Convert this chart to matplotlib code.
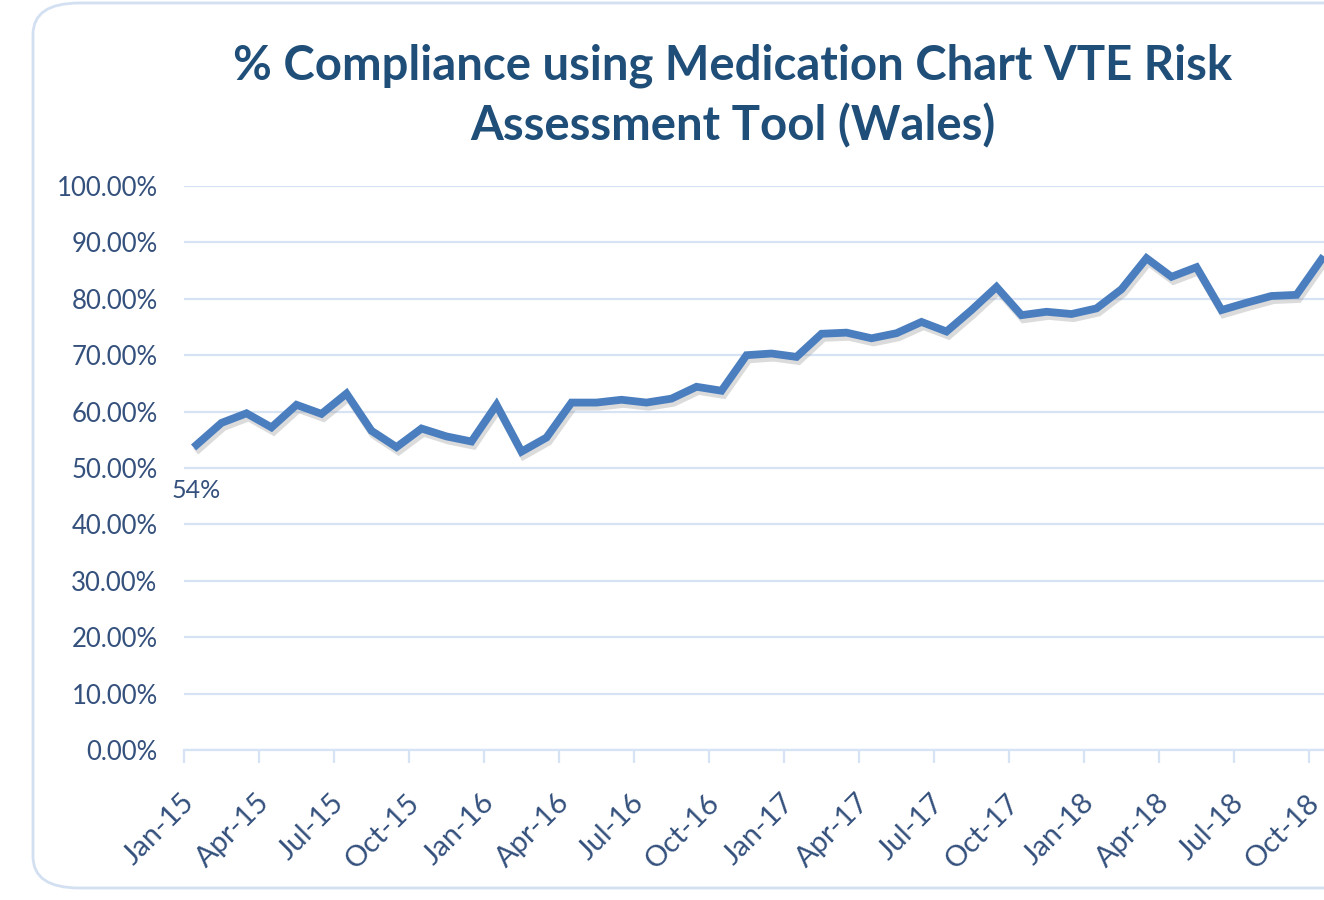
import matplotlib
matplotlib.use("Agg")
import matplotlib.pyplot as plt
import matplotlib.patheffects as pe
import matplotlib.transforms as mtransforms
from matplotlib.patches import FancyBboxPatch
from matplotlib.ticker import FuncFormatter

# monthly compliance, Jan-15 .. Oct-18 (%)
months = ["Jan-15", "Feb-15", "Mar-15", "Apr-15", "May-15", "Jun-15", "Jul-15", "Aug-15",
          "Sep-15", "Oct-15", "Nov-15", "Dec-15", "Jan-16", "Feb-16", "Mar-16", "Apr-16",
          "May-16", "Jun-16", "Jul-16", "Aug-16", "Sep-16", "Oct-16", "Nov-16", "Dec-16",
          "Jan-17", "Feb-17", "Mar-17", "Apr-17", "May-17", "Jun-17", "Jul-17", "Aug-17",
          "Sep-17", "Oct-17", "Nov-17", "Dec-17", "Jan-18", "Feb-18", "Mar-18", "Apr-18",
          "May-18", "Jun-18", "Jul-18", "Aug-18", "Sep-18", "Oct-18"]
compliance = [54.1, 58.0, 59.7, 57.2, 61.2, 59.6, 63.2, 56.6, 53.7, 57.0, 55.6, 54.7,
              61.2, 52.9, 55.4, 61.6, 61.6, 62.1, 61.6, 62.3, 64.4, 63.7, 70.0, 70.3,
              69.7, 73.8, 74.0, 73.0, 73.9, 75.9, 74.2, 78.0, 82.1, 77.1, 77.7, 77.3,
              78.3, 81.7, 87.2, 83.9, 85.6, 78.0, 79.3, 80.5, 80.7, 87.0]
first_label = "54%"
yticks = [0, 10, 20, 30, 40, 50, 60, 70, 80, 90, 100]

text_col = "#34507C"
title_col = "#1F4E79"
grid_col = "#D5E3F5"
line_col = "#4A7EBF"

plt.rcParams["font.family"] = ["Lato", "DejaVu Sans"]

fig = plt.figure(figsize=(13.24, 9), dpi=100)

# rounded chart border
border = FancyBboxPatch((33 / 1324, 12 / 900), 1.2, 885 / 900,
                        boxstyle="round,pad=0,rounding_size=0.035",
                        transform=fig.transFigure, fill=False,
                        edgecolor="#D3E0F1", linewidth=2.0)
fig.patches.append(border)

ax = fig.add_axes([184 / 1324, 150 / 900, 1 - 184 / 1324, 564 / 900])

x = [i + 0.5 for i in range(len(compliance))]
ax.plot(x, compliance, color=line_col, linewidth=5.6, solid_joinstyle="miter",
        path_effects=[pe.SimpleLineShadow(offset=(1.5, -3), shadow_color="#9a9a9a", alpha=0.35),
                      pe.Normal()], zorder=3)

ax.text(x[0], compliance[0] - 6.0, first_label, ha="center", va="top",
        fontsize=18, color=text_col)

ax.set_ylim(0, 100)
ax.set_xlim(0, 45.6)
ax.set_yticks(yticks)
ax.yaxis.set_major_formatter(FuncFormatter(lambda v, p: f"{v:.2f}%"))
ax.grid(axis="y", color=grid_col, linewidth=1.6)
ax.set_axisbelow(True)

for s in ["top", "right", "left"]:
    ax.spines[s].set_visible(False)
ax.spines["bottom"].set_color(grid_col)
ax.spines["bottom"].set_linewidth(1.6)

ax.tick_params(axis="y", length=0, pad=19, labelsize=18.5, labelcolor=text_col)
ax.tick_params(axis="x", length=9, width=1.6, color=grid_col, pad=26,
               labelsize=21, labelcolor=text_col)

tick_pos = list(range(0, len(months), 3))
ax.set_xticks(tick_pos)
ax.set_xticklabels([months[i] for i in tick_pos], rotation=45, ha="right",
                   va="center", rotation_mode="anchor")
# nudge rotated labels to the right like the Excel layout
shift = mtransforms.ScaledTranslation(6 / 100, 0, fig.dpi_scale_trans)
for lab in ax.get_xticklabels():
    lab.set_transform(lab.get_transform() + shift)

fig.text(733 / 1324, 1 - 96 / 900,
         "% Compliance using Medication Chart VTE Risk\nAssessment Tool (Wales)",
         ha="center", va="center", fontsize=34, fontweight="bold",
         color=title_col, linespacing=1.42)

fig.savefig("out.png", dpi=100)
